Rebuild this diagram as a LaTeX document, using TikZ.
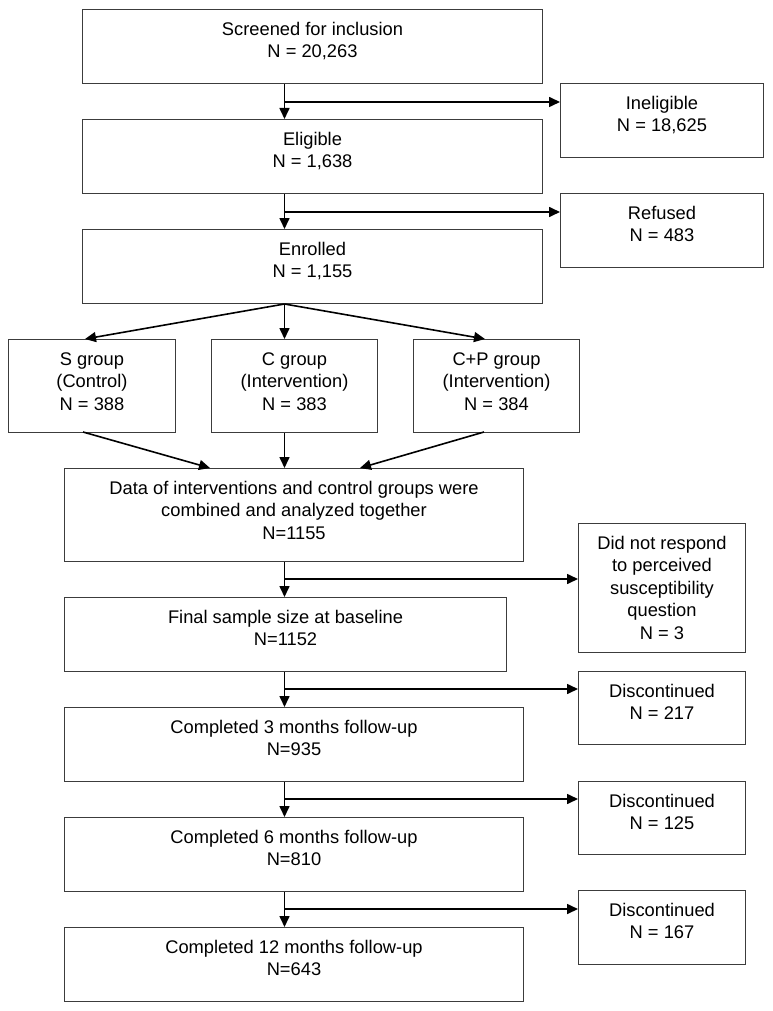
\documentclass[tikz,border=0pt]{standalone}
\usepackage{fontspec}
\setmainfont{Liberation Sans}
\usetikzlibrary{arrows.meta}
\definecolor{bordc}{RGB}{60,60,60}
\newcommand{\fst}{\rule{0pt}{14pt}}
\newcommand{\bxt}[6]{%
  \node[box, minimum width=#4pt, minimum height=#5pt] (#1) at (#2,#3) {};
  \node[txt] (#1t) at ([yshift=-12pt]#1.north) {\fst #6};
}
\tikzset{
  box/.style={draw=bordc, line width=1pt, inner sep=0pt, anchor=north west},
  txt/.style={font=\fontsize{18.3}{22.5}\selectfont, align=center, anchor=north, inner sep=0pt},
  arr/.style={line width=1.6pt, -{Triangle[length=11pt,width=10pt]}},
}
\begin{document}
\begin{tikzpicture}[x=1pt,y=-1pt]
\useasboundingbox (0,0) rectangle (772,1011);
\bxt{scr}{82}{9}{460}{74}{Screened for inclusion\\N = 20,263}
\bxt{eli}{82}{119}{460}{74}{Eligible\\N = 1,638}
\bxt{enr}{82}{229}{460}{74}{Enrolled\\N = 1,155}
\bxt{inel}{560}{83}{203}{74}{Ineligible\\N = 18,625}
\bxt{ref}{560}{193}{203}{74}{Refused\\N = 483}
\bxt{sg}{8}{339}{167}{93}{S group\\(Control)\\N = 388}
\bxt{cg}{211}{339}{166}{93}{C group\\(Intervention)\\N = 383}
\bxt{cpg}{413}{339}{166}{93}{C+P group\\(Intervention)\\N = 384}
\bxt{dat}{64}{468}{459}{93}{Data of interventions and control groups were\\combined and analyzed together\\N=1155}
\bxt{dnr}{578}{523}{167}{129}{Did not respond\\to perceived\\susceptibility\\question\\N = 3}
\bxt{fin}{64}{597}{442}{74}{Final sample size at baseline\\N=1152}
\bxt{dis1}{578}{671}{167}{73}{Discontinued\\N = 217}
\bxt{c3}{64}{707}{459}{74}{Completed 3 months follow-up\\N=935}
\bxt{dis2}{578}{781}{167}{73}{Discontinued\\N = 125}
\bxt{c6}{64}{817}{459}{74}{Completed 6 months follow-up\\N=810}
\bxt{dis3}{578}{890}{167}{74}{Discontinued\\N = 167}
\bxt{c12}{64}{927}{459}{74}{Completed 12 months follow-up\\N=643}
% branch points on the main line
\coordinate (m1) at (284.5,102);
\coordinate (m2) at (284.5,212);
\coordinate (m3) at (284.5,579);
\coordinate (m4) at (284.5,689);
\coordinate (m5) at (284.5,799);
\coordinate (m6) at (284.5,909);
% fan-out / fan-in points
\coordinate (sgin) at (85,339);
\coordinate (cpgin) at (485,339);
\coordinate (sgout) at (83,432);
\coordinate (cpgout) at (484,432);
\coordinate (datin1) at (210,468);
\coordinate (datin3) at (360,468);
% top part
\draw[arr] (scr.south -| m1) -- (eli.north -| m1);
\draw[arr] (m1) -- (inel.west |- m1);
\draw[arr] (eli.south -| m2) -- (enr.north -| m2);
\draw[arr] (m2) -- (ref.west |- m2);
% fan out
\draw[arr] (enr.south -| m1) -- (sgin);
\draw[arr] (enr.south -| m1) -- (cg.north -| m1);
\draw[arr] (enr.south -| m1) -- (cpgin);
% fan in
\draw[arr] (sgout) -- (datin1);
\draw[arr] (cg.south -| m1) -- (dat.north -| m1);
\draw[arr] (cpgout) -- (datin3);
% lower part
\draw[arr] (dat.south -| m3) -- (fin.north -| m3);
\draw[arr] (m3) -- (dnr.west |- m3);
\draw[arr] (fin.south -| m4) -- (c3.north -| m4);
\draw[arr] (m4) -- (dis1.west |- m4);
\draw[arr] (c3.south -| m5) -- (c6.north -| m5);
\draw[arr] (m5) -- (dis2.west |- m5);
\draw[arr] (c6.south -| m6) -- (c12.north -| m6);
\draw[arr] (m6) -- (dis3.west |- m6);
\end{tikzpicture}
\end{document}
